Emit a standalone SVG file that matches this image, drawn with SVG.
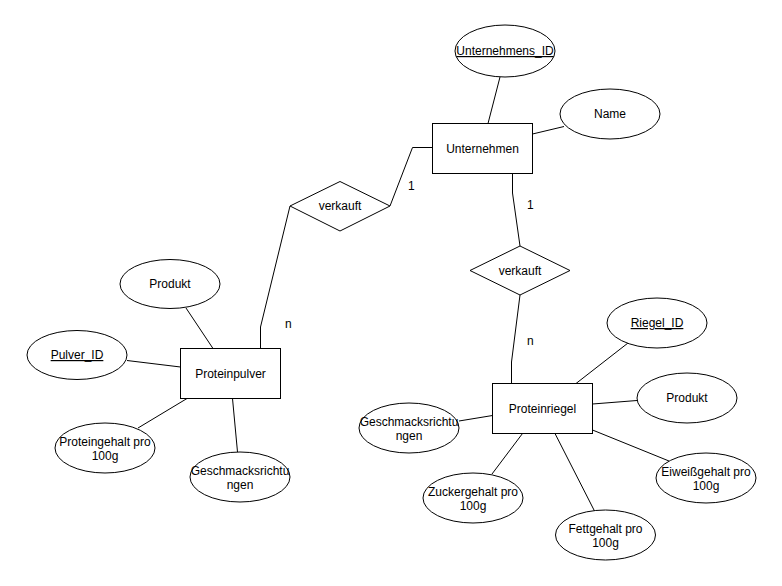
<svg xmlns="http://www.w3.org/2000/svg" width="782" height="586" viewBox="0 0 782 586">
<style>
.n{fill:#fff;stroke:#000;stroke-width:1}
.c{fill:none;stroke:#000;stroke-width:1}
text{font-family:"Liberation Sans",Arial,sans-serif;font-size:12px;fill:#000;text-anchor:middle}
.u{text-decoration:underline}
.l{text-anchor:start}
</style>
<rect width="782" height="586" fill="#fff"/>
<g id="connectors">
<polyline class="c" points="500,77 488,123.5"/>
<polyline class="c" points="532.5,134 564,126.5"/>
<polyline class="c" points="432.5,147.5 412.5,147.5 390,206"/>
<polyline class="c" points="290,206 260.5,327 260.5,348.5"/>
<polyline class="c" points="512.5,173.5 512.5,193 520,246"/>
<polyline class="c" points="520,295 511.5,362 511.5,383.5"/>
<polyline class="c" points="186,308 213,348.5"/>
<polyline class="c" points="127,360.5 180.5,367"/>
<polyline class="c" points="187,398.5 138,428"/>
<polyline class="c" points="232.5,398.5 237.5,452"/>
<polyline class="c" points="576,383.5 628,343"/>
<polyline class="c" points="592.5,404 637,400.5"/>
<polyline class="c" points="592.5,430 669,461"/>
<polyline class="c" points="555,433.5 594.5,511"/>
<polyline class="c" points="522.5,433.5 492,474"/>
<polyline class="c" points="492.5,415.5 459,421"/>
</g>
<g id="unternehmen"><rect class="n" x="432.5" y="123.5" width="100" height="50"/><text x="482.5" y="152.5">Unternehmen</text></g>
<g id="unternehmens_id"><ellipse class="n" cx="505" cy="51" rx="50" ry="26"/><text class="u" x="505" y="55">Unternehmens_ID</text></g>
<g id="name"><ellipse class="n" cx="610" cy="114" rx="50" ry="25"/><text x="610" y="118">Name</text></g>
<g id="verkauft1"><polygon class="n" points="340,181.5 390,206 340,231 290,206"/><text x="340" y="210">verkauft</text></g>
<g id="verkauft2"><polygon class="n" points="520,246 570,270.5 520,295 470,270.5"/><text x="520" y="275">verkauft</text></g>
<text class="l" x="408" y="190">1</text>
<text class="l" x="527" y="209">1</text>
<text class="l" x="285" y="328">n</text>
<text class="l" x="527" y="345">n</text>
<g id="proteinpulver"><rect class="n" x="180.5" y="348.5" width="100" height="50"/><text x="230.5" y="378">Proteinpulver</text></g>
<g id="produkt1"><ellipse class="n" cx="170" cy="284" rx="50" ry="24.5"/><text x="170" y="288">Produkt</text></g>
<g id="pulver_id"><ellipse class="n" cx="77" cy="355" rx="50" ry="24.5"/><text class="u" x="77" y="359">Pulver_ID</text></g>
<g id="proteingehalt"><ellipse class="n" cx="105" cy="448" rx="50" ry="25"/><text x="105" y="446">Proteingehalt pro</text><text x="105" y="460">100g</text></g>
<g id="geschmack1"><ellipse class="n" cx="240" cy="477" rx="50" ry="25"/><text x="240" y="475">Geschmacksrichtu</text><text x="240" y="489">ngen</text></g>
<g id="proteinriegel"><rect class="n" x="492.5" y="383.5" width="100" height="50"/><text x="542.5" y="413">Proteinriegel</text></g>
<g id="riegel_id"><ellipse class="n" cx="657" cy="323" rx="50" ry="25"/><text class="u" x="657" y="327">Riegel_ID</text></g>
<g id="produkt2"><ellipse class="n" cx="687" cy="398" rx="50" ry="25"/><text x="687" y="402">Produkt</text></g>
<g id="eiweiss"><ellipse class="n" cx="706" cy="478" rx="50" ry="25"/><text x="706" y="476">Eiweißgehalt pro</text><text x="706" y="490">100g</text></g>
<g id="fett"><ellipse class="n" cx="605.5" cy="535" rx="50" ry="25"/><text x="605.5" y="533">Fettgehalt pro</text><text x="605.5" y="547">100g</text></g>
<g id="zucker"><ellipse class="n" cx="473" cy="498" rx="50" ry="25"/><text x="473" y="496">Zuckergehalt pro</text><text x="473" y="510">100g</text></g>
<g id="geschmack2"><ellipse class="n" cx="409" cy="428" rx="50" ry="25"/><text x="409" y="426">Geschmacksrichtu</text><text x="409" y="440">ngen</text></g>
</svg>
